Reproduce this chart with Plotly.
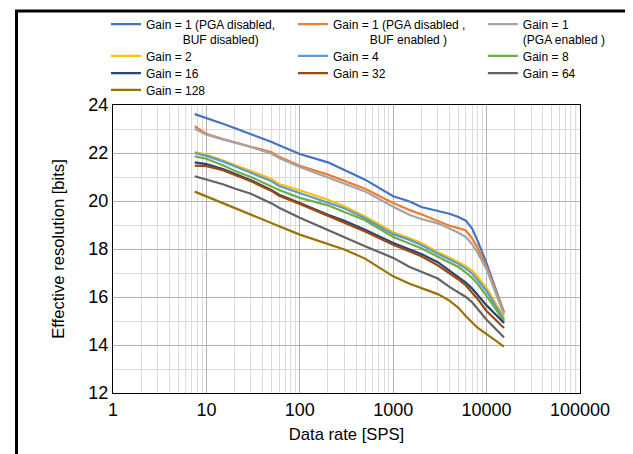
import plotly.graph_objects as go

rate = [7.5, 10, 15, 20, 30, 50, 60, 100, 200, 300, 500, 1000, 1500, 2000,
        3000, 4000, 5000, 6000, 7000, 8000, 10000, 15360]

g1_pga_dis_buf_dis = [23.62, 23.46, 23.22, 23.04, 22.79, 22.46, 22.32, 21.96, 21.61, 21.28, 20.89,
                      20.2, 19.98, 19.75, 19.6, 19.47, 19.33, 19.18, 18.85, 18.35, 17.4, 15.35]
g1_pga_dis_buf_en = [23.12, 22.8, 22.58, 22.45, 22.28, 22.03, 21.84, 21.47, 21.1, 20.85, 20.51,
                     19.92, 19.62, 19.45, 19.17, 18.97, 18.87, 18.77, 18.45, 18.05, 17.25, 15.36]
g1_pga_en = [23.01, 22.76, 22.57, 22.45, 22.25, 21.97, 21.79, 21.42, 20.99, 20.75, 20.4,
             19.76, 19.42, 19.25, 19.07, 18.85, 18.68, 18.5, 18.2, 17.85, 17.15, 15.26]
g2 = [22.04, 21.93, 21.69, 21.51, 21.24, 20.92, 20.71, 20.45, 20.05, 19.78, 19.36,
      18.7, 18.45, 18.25, 17.88, 17.65, 17.45, 17.28, 17.1, 16.85, 16.38, 15.12]
g4 = [22.0, 21.88, 21.65, 21.45, 21.17, 20.82, 20.62, 20.33, 19.95, 19.7, 19.28,
      18.62, 18.38, 18.17, 17.8, 17.58, 17.38, 17.18, 16.98, 16.72, 16.25, 15.05]
g8 = [21.86, 21.76, 21.49, 21.26, 21.0, 20.6, 20.46, 20.13, 19.82, 19.54, 19.2,
      18.5, 18.22, 18.03, 17.68, 17.45, 17.25, 17.02, 16.8, 16.55, 16.05, 14.98]
g16 = [21.61, 21.54, 21.33, 21.14, 20.86, 20.45, 20.26, 19.92, 19.43, 19.18, 18.8,
       18.25, 17.97, 17.79, 17.45, 17.1, 16.85, 16.6, 16.35, 16.1, 15.65, 14.92]
g32 = [21.47, 21.45, 21.28, 21.1, 20.82, 20.42, 20.22, 19.88, 19.38, 19.12, 18.73,
       18.18, 17.9, 17.7, 17.32, 17.0, 16.73, 16.48, 16.2, 15.92, 15.42, 14.71]
g64 = [21.03, 20.9, 20.7, 20.52, 20.3, 19.9, 19.72, 19.3, 18.78, 18.46, 18.11,
       17.63, 17.25, 17.05, 16.77, 16.42, 16.2, 16.0, 15.78, 15.5, 15.05, 14.31]
g128 = [20.39, 20.19, 19.9, 19.69, 19.4, 19.05, 18.95, 18.6, 18.22, 17.98, 17.6,
        16.86, 16.55, 16.38, 16.12, 15.85, 15.55, 15.2, 14.95, 14.72, 14.45, 13.93]

pad = "\u00a0" * 11
names = ["Gain = 1 (PGA disabled,<br>" + pad + "BUF disabled)",
         "Gain = 1 (PGA disabled ,<br>" + pad + "BUF enabled )",
         "Gain = 1<br>(PGA enabled )",
         "Gain = 2", "Gain = 4", "Gain = 8",
         "Gain = 16", "Gain = 32", "Gain = 64", "Gain = 128"]
series = [g1_pga_dis_buf_dis, g1_pga_dis_buf_en, g1_pga_en, g2, g4, g8, g16, g32, g64, g128]
colors = ["#4472C4", "#ED7D31", "#A5A5A5", "#FFC000", "#5B9BD5", "#70AD47",
          "#264478", "#9E480E", "#636363", "#997300"]

fig = go.Figure()
for i, (name, ys, c) in enumerate(zip(names, series, colors)):
    fig.add_trace(go.Scatter(x=rate, y=ys, name=name, mode="lines", showlegend=True,
                             line=dict(color=c, width=2.2),
                             legend="legend" if i == 0 else f"legend{i + 1}"))

minor_x = [m * 10 ** d for d in range(0, 5) for m in range(2, 10)]

fig.update_xaxes(type="log", range=[0, 5], tickvals=[1, 10, 100, 1000, 10000, 100000],
                 ticktext=["1", "10", "100", "1000", "10000", "100000"],
                 showgrid=True, gridcolor="#b4b4b4", gridwidth=1,
                 minor=dict(tickmode="array", tickvals=minor_x, showgrid=True,
                            gridcolor="#dcdcdc", gridwidth=1),
                 showline=True, mirror=True, linecolor="black", linewidth=1,
                 ticks="", tickfont=dict(size=18, color="black"),
                 title=dict(text="Data rate [SPS]", font=dict(size=16.6, color="black"), standoff=9))
fig.update_yaxes(range=[12, 24], dtick=2, showgrid=True, gridcolor="#b4b4b4", gridwidth=1,
                 minor=dict(dtick=1, showgrid=True, gridcolor="#dcdcdc", gridwidth=1),
                 showline=True, mirror=True, linecolor="black", linewidth=1,
                 ticks="", tickfont=dict(size=18, color="black"), zeroline=False,
                 title=dict(text="Effective resolution [bits]", font=dict(size=16.6, color="black"),
                            standoff=19))

fig.add_shape(type="rect", xref="paper", yref="paper",
              x0=-0.2066, x1=1.1156, y0=-0.3, y1=1.326,
              line=dict(color="black", width=3))

# one small legend per entry, laid out in 3 columns x 4 rows
col_x = [-0.015, 0.3855, 0.792]
row_y = [1.2525, 1.170, 1.110, 1.052]
leg = dict(orientation="v", yanchor="middle", xanchor="left", valign="top",
           font=dict(size=12, color="black"), bgcolor="rgba(0,0,0,0)",
           itemwidth=30, tracegroupgap=0)
legends = {}
for i in range(len(series)):
    key = "legend" if i == 0 else f"legend{i + 1}"
    legends[key] = dict(leg, x=col_x[i % 3], y=row_y[i // 3])

fig.update_layout(
    width=633, height=454, showlegend=True,
    margin=dict(l=105, r=61, t=97, b=69, autoexpand=False),
    paper_bgcolor="white", plot_bgcolor="white",
    font=dict(family="Liberation Sans, Arial, sans-serif", color="black"),
    **legends,
)

fig.write_html("out.html")
